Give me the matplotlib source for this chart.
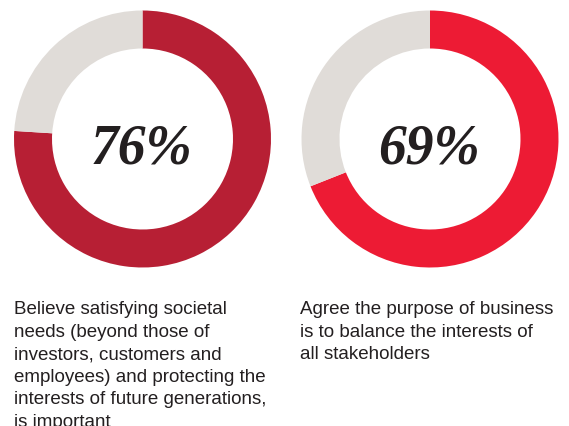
import matplotlib
matplotlib.use("Agg")
import matplotlib.pyplot as plt

# values shown in the two donuts
shares = [76, 69]
labels = ["76%", "69%"]
reds = ["#b71f34", "#ed1b34"]
grey = "#e0dcd8"
captions = [
    "Believe satisfying societal\nneeds (beyond those of\ninvestors, customers and\n"
    "employees) and protecting the\ninterests of future generations,\nis important",
    "Agree the purpose of business\nis to balance the interests of\nall stakeholders",
]

W, H = 569, 427
fig = plt.figure(figsize=(W / 100, H / 100), dpi=100)
ax = fig.add_axes([0, 0, 1, 1])

centers = [(142.5, H - 140), (430, H - 140)]
for (cx, cy), v, lab, c in zip(centers, shares, labels, reds):
    ax.pie([v, 100 - v], colors=[c, grey], startangle=90, counterclock=False,
           center=(cx, cy), radius=128.5,
           wedgeprops=dict(width=38, linewidth=0))
    # baseline of the big number sits ~23px under the centre
    ax.text(cx - 1, cy - 23, lab, ha="center", va="baseline", fontsize=40,
            family="Liberation Serif", weight="bold", style="italic", color="#231f20")

ax.set_xlim(0, W)
ax.set_ylim(0, H)
ax.set_aspect("equal")
ax.axis("off")

for x, txt in zip([14, 300], captions):
    fig.text(x / W, 1 - 301 / H, txt, ha="left", va="top", fontsize=13.5,
             family="Liberation Sans", color="#231f20", linespacing=1.43)

fig.savefig("out.png", dpi=100)
